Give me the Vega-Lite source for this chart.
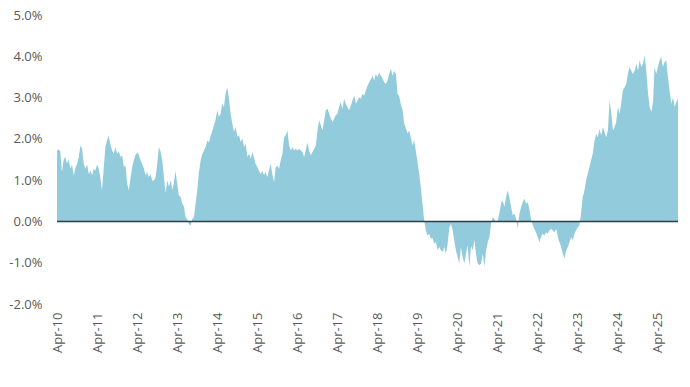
{
  "$schema": "https://vega.github.io/schema/vega-lite/v6.json",
  "autosize": {"type": "none"},
  "padding": {"left": 57, "top": 15, "right": 12, "bottom": 83},
  "width": 621,
  "height": 289,
  "config": {"view": {"stroke": null}, "font": "Open Sans"},
  "data": {"values": [
{"d":"2010/04/01","v":1.72},{"d":"2010/04/16","v":1.74},{"d":"2010/05/01","v":1.70},{"d":"2010/05/16","v":1.19},{"d":"2010/06/01","v":1.50},{"d":"2010/06/16","v":1.56},{"d":"2010/07/01","v":1.40},{"d":"2010/07/16","v":1.50},{"d":"2010/08/01","v":1.28},{"d":"2010/08/16","v":1.37},{"d":"2010/09/01","v":1.11},{"d":"2010/09/16","v":1.30},{"d":"2010/10/01","v":1.40},{"d":"2010/10/16","v":1.55},{"d":"2010/11/01","v":1.84},{"d":"2010/11/16","v":1.76},{"d":"2010/12/01","v":1.40},{"d":"2010/12/16","v":1.28},
{"d":"2011/01/01","v":1.37},{"d":"2011/01/16","v":1.15},{"d":"2011/02/01","v":1.23},{"d":"2011/02/16","v":1.11},{"d":"2011/03/01","v":1.28},{"d":"2011/03/16","v":1.23},{"d":"2011/04/01","v":1.37},{"d":"2011/04/16","v":1.28},{"d":"2011/05/01","v":1.07},{"d":"2011/05/16","v":0.75},{"d":"2011/06/01","v":1.28},{"d":"2011/06/16","v":1.80},{"d":"2011/07/01","v":1.96},{"d":"2011/07/16","v":2.08},{"d":"2011/08/01","v":1.86},{"d":"2011/08/16","v":1.72},{"d":"2011/09/01","v":1.64},{"d":"2011/09/16","v":1.80},{"d":"2011/10/01","v":1.64},{"d":"2011/10/16","v":1.70},{"d":"2011/11/01","v":1.56},{"d":"2011/11/16","v":1.60},{"d":"2011/12/01","v":1.32},{"d":"2011/12/16","v":1.36},
{"d":"2012/01/01","v":0.92},{"d":"2012/01/16","v":0.75},{"d":"2012/02/01","v":1.07},{"d":"2012/02/16","v":1.32},{"d":"2012/03/01","v":1.48},{"d":"2012/03/16","v":1.60},{"d":"2012/04/01","v":1.67},{"d":"2012/04/16","v":1.62},{"d":"2012/05/01","v":1.48},{"d":"2012/05/16","v":1.40},{"d":"2012/06/01","v":1.28},{"d":"2012/06/16","v":1.11},{"d":"2012/07/01","v":1.19},{"d":"2012/07/16","v":1.07},{"d":"2012/08/01","v":1.15},{"d":"2012/08/16","v":0.99},{"d":"2012/09/01","v":0.99},{"d":"2012/09/16","v":1.07},{"d":"2012/10/01","v":1.40},{"d":"2012/10/16","v":1.80},{"d":"2012/11/01","v":1.68},{"d":"2012/11/16","v":1.48},{"d":"2012/12/01","v":1.07},{"d":"2012/12/16","v":0.68},
{"d":"2013/01/01","v":1.00},{"d":"2013/01/16","v":0.84},{"d":"2013/02/01","v":1.00},{"d":"2013/02/16","v":0.76},{"d":"2013/03/01","v":0.92},{"d":"2013/03/16","v":1.23},{"d":"2013/04/01","v":0.92},{"d":"2013/04/16","v":0.63},{"d":"2013/05/01","v":0.60},{"d":"2013/05/16","v":0.44},{"d":"2013/06/01","v":0.36},{"d":"2013/06/16","v":0.10},{"d":"2013/07/01","v":0.06},{"d":"2013/07/16","v":-0.06},{"d":"2013/08/01","v":-0.10},{"d":"2013/08/16","v":0.06},{"d":"2013/09/01","v":0.10},{"d":"2013/09/16","v":0.44},{"d":"2013/10/01","v":0.76},{"d":"2013/10/16","v":1.20},{"d":"2013/11/01","v":1.48},{"d":"2013/11/16","v":1.64},{"d":"2013/12/01","v":1.72},{"d":"2013/12/16","v":1.80},
{"d":"2014/01/01","v":1.96},{"d":"2014/01/16","v":1.92},{"d":"2014/02/01","v":2.08},{"d":"2014/02/16","v":2.20},{"d":"2014/03/01","v":2.32},{"d":"2014/03/16","v":2.45},{"d":"2014/04/01","v":2.69},{"d":"2014/04/16","v":2.53},{"d":"2014/05/01","v":2.60},{"d":"2014/05/16","v":2.85},{"d":"2014/06/01","v":2.77},{"d":"2014/06/16","v":3.10},{"d":"2014/07/01","v":3.25},{"d":"2014/07/16","v":3.00},{"d":"2014/08/01","v":2.60},{"d":"2014/08/16","v":2.37},{"d":"2014/09/01","v":2.17},{"d":"2014/09/16","v":2.29},{"d":"2014/10/01","v":2.05},{"d":"2014/10/16","v":2.09},{"d":"2014/11/01","v":1.93},{"d":"2014/11/16","v":2.01},{"d":"2014/12/01","v":1.80},{"d":"2014/12/16","v":1.88},
{"d":"2015/01/01","v":1.56},{"d":"2015/01/16","v":1.64},{"d":"2015/02/01","v":1.52},{"d":"2015/02/16","v":1.68},{"d":"2015/03/01","v":1.56},{"d":"2015/03/16","v":1.40},{"d":"2015/04/01","v":1.32},{"d":"2015/04/16","v":1.23},{"d":"2015/05/01","v":1.15},{"d":"2015/05/16","v":1.23},{"d":"2015/06/01","v":1.12},{"d":"2015/06/16","v":1.20},{"d":"2015/07/01","v":1.07},{"d":"2015/07/16","v":1.23},{"d":"2015/08/01","v":1.40},{"d":"2015/08/16","v":1.15},{"d":"2015/09/01","v":0.95},{"d":"2015/09/16","v":1.31},{"d":"2015/10/01","v":1.35},{"d":"2015/10/16","v":1.27},{"d":"2015/11/01","v":1.48},{"d":"2015/11/16","v":1.64},{"d":"2015/12/01","v":2.04},{"d":"2015/12/16","v":2.08},
{"d":"2016/01/01","v":2.20},{"d":"2016/01/16","v":1.84},{"d":"2016/02/01","v":1.72},{"d":"2016/02/16","v":1.80},{"d":"2016/03/01","v":1.72},{"d":"2016/03/16","v":1.76},{"d":"2016/04/01","v":1.72},{"d":"2016/04/16","v":1.76},{"d":"2016/05/01","v":1.72},{"d":"2016/05/16","v":1.68},{"d":"2016/06/01","v":1.56},{"d":"2016/06/16","v":1.72},{"d":"2016/07/01","v":1.92},{"d":"2016/07/16","v":1.72},{"d":"2016/08/01","v":1.60},{"d":"2016/08/16","v":1.68},{"d":"2016/09/01","v":1.76},{"d":"2016/09/16","v":1.84},{"d":"2016/10/01","v":2.20},{"d":"2016/10/16","v":2.45},{"d":"2016/11/01","v":2.33},{"d":"2016/11/16","v":2.20},{"d":"2016/12/01","v":2.45},{"d":"2016/12/16","v":2.69},
{"d":"2017/01/01","v":2.73},{"d":"2017/01/16","v":2.61},{"d":"2017/02/01","v":2.49},{"d":"2017/02/16","v":2.41},{"d":"2017/03/01","v":2.49},{"d":"2017/03/16","v":2.57},{"d":"2017/04/01","v":2.61},{"d":"2017/04/16","v":2.77},{"d":"2017/05/01","v":2.89},{"d":"2017/05/16","v":2.73},{"d":"2017/06/01","v":2.97},{"d":"2017/06/16","v":2.85},{"d":"2017/07/01","v":2.77},{"d":"2017/07/16","v":2.69},{"d":"2017/08/01","v":2.81},{"d":"2017/08/16","v":2.93},{"d":"2017/09/01","v":3.05},{"d":"2017/09/16","v":2.85},{"d":"2017/10/01","v":2.93},{"d":"2017/10/16","v":3.01},{"d":"2017/11/01","v":2.97},{"d":"2017/11/16","v":3.09},{"d":"2017/12/01","v":3.05},{"d":"2017/12/16","v":3.17},
{"d":"2018/01/01","v":3.29},{"d":"2018/01/16","v":3.37},{"d":"2018/02/01","v":3.45},{"d":"2018/02/16","v":3.53},{"d":"2018/03/01","v":3.41},{"d":"2018/03/16","v":3.57},{"d":"2018/04/01","v":3.49},{"d":"2018/04/16","v":3.61},{"d":"2018/05/01","v":3.53},{"d":"2018/05/16","v":3.47},{"d":"2018/06/01","v":3.37},{"d":"2018/06/16","v":3.33},{"d":"2018/07/01","v":3.41},{"d":"2018/07/16","v":3.57},{"d":"2018/08/01","v":3.70},{"d":"2018/08/16","v":3.53},{"d":"2018/09/01","v":3.65},{"d":"2018/09/16","v":3.57},{"d":"2018/10/01","v":3.09},{"d":"2018/10/16","v":3.03},{"d":"2018/11/01","v":2.82},{"d":"2018/11/16","v":2.70},{"d":"2018/12/01","v":2.37},{"d":"2018/12/16","v":2.25},
{"d":"2019/01/01","v":2.13},{"d":"2019/01/16","v":2.20},{"d":"2019/02/01","v":2.00},{"d":"2019/02/16","v":1.84},{"d":"2019/03/01","v":1.98},{"d":"2019/03/16","v":1.72},{"d":"2019/04/01","v":1.44},{"d":"2019/04/16","v":1.15},{"d":"2019/05/01","v":0.83},{"d":"2019/05/16","v":0.43},{"d":"2019/06/01","v":0.02},{"d":"2019/06/16","v":-0.22},{"d":"2019/07/01","v":-0.34},{"d":"2019/07/16","v":-0.30},{"d":"2019/08/01","v":-0.42},{"d":"2019/08/16","v":-0.40},{"d":"2019/09/01","v":-0.54},{"d":"2019/09/16","v":-0.50},{"d":"2019/10/01","v":-0.70},{"d":"2019/10/16","v":-0.62},{"d":"2019/11/01","v":-0.70},{"d":"2019/11/16","v":-0.74},{"d":"2019/12/01","v":-0.62},{"d":"2019/12/16","v":-0.78},
{"d":"2020/01/01","v":-0.54},{"d":"2020/01/16","v":-0.14},{"d":"2020/02/01","v":-0.06},{"d":"2020/02/16","v":-0.22},{"d":"2020/03/01","v":-0.46},{"d":"2020/03/16","v":-0.70},{"d":"2020/04/01","v":-0.86},{"d":"2020/04/16","v":-1.02},{"d":"2020/05/01","v":-0.62},{"d":"2020/05/16","v":-0.86},{"d":"2020/06/01","v":-1.02},{"d":"2020/06/16","v":-0.78},{"d":"2020/07/01","v":-0.58},{"d":"2020/07/16","v":-1.10},{"d":"2020/08/01","v":-0.60},{"d":"2020/08/16","v":-0.70},{"d":"2020/09/01","v":-0.45},{"d":"2020/09/16","v":-0.80},{"d":"2020/10/01","v":-1.02},{"d":"2020/10/16","v":-1.06},{"d":"2020/11/01","v":-1.02},{"d":"2020/11/16","v":-0.78},{"d":"2020/12/01","v":-1.10},{"d":"2020/12/16","v":-0.70},
{"d":"2021/01/01","v":-0.50},{"d":"2021/01/16","v":-0.38},{"d":"2021/02/01","v":-0.02},{"d":"2021/02/16","v":0.10},{"d":"2021/03/01","v":0.06},{"d":"2021/03/16","v":-0.02},{"d":"2021/04/01","v":0.02},{"d":"2021/04/16","v":0.19},{"d":"2021/05/01","v":0.43},{"d":"2021/05/16","v":0.51},{"d":"2021/06/01","v":0.35},{"d":"2021/06/16","v":0.59},{"d":"2021/07/01","v":0.75},{"d":"2021/07/16","v":0.59},{"d":"2021/08/01","v":0.35},{"d":"2021/08/16","v":0.15},{"d":"2021/09/01","v":0.19},{"d":"2021/09/16","v":0.05},{"d":"2021/10/01","v":-0.18},{"d":"2021/10/16","v":0.18},{"d":"2021/11/01","v":0.35},{"d":"2021/11/16","v":0.47},{"d":"2021/12/01","v":0.55},{"d":"2021/12/16","v":0.43},
{"d":"2022/01/01","v":0.47},{"d":"2022/01/16","v":0.27},{"d":"2022/02/01","v":0.02},{"d":"2022/02/16","v":-0.10},{"d":"2022/03/01","v":-0.18},{"d":"2022/03/16","v":-0.26},{"d":"2022/04/01","v":-0.38},{"d":"2022/04/16","v":-0.50},{"d":"2022/05/01","v":-0.38},{"d":"2022/05/16","v":-0.30},{"d":"2022/06/01","v":-0.34},{"d":"2022/06/16","v":-0.26},{"d":"2022/07/01","v":-0.30},{"d":"2022/07/16","v":-0.22},{"d":"2022/08/01","v":-0.18},{"d":"2022/08/16","v":-0.22},{"d":"2022/09/01","v":-0.26},{"d":"2022/09/16","v":-0.18},{"d":"2022/10/01","v":-0.38},{"d":"2022/10/16","v":-0.50},{"d":"2022/11/01","v":-0.62},{"d":"2022/11/16","v":-0.78},{"d":"2022/12/01","v":-0.90},{"d":"2022/12/16","v":-0.70},
{"d":"2023/01/01","v":-0.62},{"d":"2023/01/16","v":-0.50},{"d":"2023/02/01","v":-0.38},{"d":"2023/02/16","v":-0.46},{"d":"2023/03/01","v":-0.30},{"d":"2023/03/16","v":-0.22},{"d":"2023/04/01","v":-0.14},{"d":"2023/04/16","v":-0.10},{"d":"2023/05/01","v":0.19},{"d":"2023/05/16","v":0.59},{"d":"2023/06/01","v":0.75},{"d":"2023/06/16","v":0.99},{"d":"2023/07/01","v":1.15},{"d":"2023/07/16","v":1.31},{"d":"2023/08/01","v":1.48},{"d":"2023/08/16","v":1.64},{"d":"2023/09/01","v":1.96},{"d":"2023/09/16","v":2.12},{"d":"2023/10/01","v":2.04},{"d":"2023/10/16","v":2.24},{"d":"2023/11/01","v":2.08},{"d":"2023/11/16","v":2.28},{"d":"2023/12/01","v":2.16},{"d":"2023/12/16","v":2.04},
{"d":"2024/01/01","v":2.20},{"d":"2024/01/16","v":2.93},{"d":"2024/02/01","v":2.60},{"d":"2024/02/16","v":2.20},{"d":"2024/03/01","v":2.28},{"d":"2024/03/16","v":2.40},{"d":"2024/04/01","v":2.77},{"d":"2024/04/16","v":2.61},{"d":"2024/05/01","v":2.85},{"d":"2024/05/16","v":3.17},{"d":"2024/06/01","v":3.25},{"d":"2024/06/16","v":3.33},{"d":"2024/07/01","v":3.57},{"d":"2024/07/16","v":3.74},{"d":"2024/08/01","v":3.65},{"d":"2024/08/16","v":3.57},{"d":"2024/09/01","v":3.65},{"d":"2024/09/16","v":3.82},{"d":"2024/10/01","v":3.65},{"d":"2024/10/16","v":3.90},{"d":"2024/11/01","v":3.74},{"d":"2024/11/16","v":3.82},{"d":"2024/12/01","v":4.02},{"d":"2024/12/16","v":3.65},
{"d":"2025/01/01","v":3.09},{"d":"2025/01/16","v":2.77},{"d":"2025/02/01","v":2.65},{"d":"2025/02/16","v":2.93},{"d":"2025/03/01","v":3.74},{"d":"2025/03/16","v":3.57},{"d":"2025/04/01","v":3.74},{"d":"2025/04/16","v":3.90},{"d":"2025/05/01","v":3.98},{"d":"2025/05/16","v":3.74},{"d":"2025/06/01","v":3.86},{"d":"2025/06/16","v":3.90},{"d":"2025/07/01","v":3.50},{"d":"2025/07/16","v":3.17},{"d":"2025/08/01","v":2.85},{"d":"2025/08/16","v":3.00},{"d":"2025/09/01","v":2.77},{"d":"2025/09/16","v":2.89},{"d":"2025/10/01","v":2.97}
  ]},
  "layer": [
    {
      "mark": {"type": "area", "color": "#92CBDC", "interpolate": "linear"},
      "encoding": {
        "x": {
          "field": "d", "type": "temporal",
          "scale": {"domain": [{"year": 2010, "month": 4, "date": 1}, {"year": 2025, "month": 10, "date": 1}], "nice": false},
          "axis": {
            "values": [
              {"year": 2010, "month": 4, "date": 1}, {"year": 2011, "month": 4, "date": 1}, {"year": 2012, "month": 4, "date": 1}, {"year": 2013, "month": 4, "date": 1},
              {"year": 2014, "month": 4, "date": 1}, {"year": 2015, "month": 4, "date": 1}, {"year": 2016, "month": 4, "date": 1}, {"year": 2017, "month": 4, "date": 1},
              {"year": 2018, "month": 4, "date": 1}, {"year": 2019, "month": 4, "date": 1}, {"year": 2020, "month": 4, "date": 1}, {"year": 2021, "month": 4, "date": 1},
              {"year": 2022, "month": 4, "date": 1}, {"year": 2023, "month": 4, "date": 1}, {"year": 2024, "month": 4, "date": 1}, {"year": 2025, "month": 4, "date": 1}
            ],
            "format": "%b-%y", "labelAngle": -90, "labelAlign": "right", "labelBaseline": "middle",
            "grid": false, "domain": false, "ticks": false, "tickSize": 0,
            "labelPadding": 8, "labelFontSize": 13, "labelColor": "#595959",
            "labelFlush": false, "labelOverlap": false, "title": null
          }
        },
        "y": {
          "field": "v", "type": "quantitative",
          "scale": {"domain": [-2, 5], "nice": false, "zero": false},
          "axis": {
            "values": [-2, -1, 0, 1, 2, 3, 4, 5],
            "labelExpr": "(datum.value < 0 ? '-' : '') + format(abs(datum.value), '.1f') + '%'",
            "grid": false, "domain": false, "ticks": false, "tickSize": 0,
            "labelPadding": 15, "labelFontSize": 13, "labelColor": "#595959",
            "labelFlush": false, "title": null
          }
        },
        "y2": {"datum": 0}
      }
    },
    {
      "data": {"values": [{"z": 0}]},
      "mark": {"type": "rule", "color": "#2F3E46", "strokeWidth": 1.5},
      "encoding": {"y": {"field": "z", "type": "quantitative"}}
    }
  ]
}
